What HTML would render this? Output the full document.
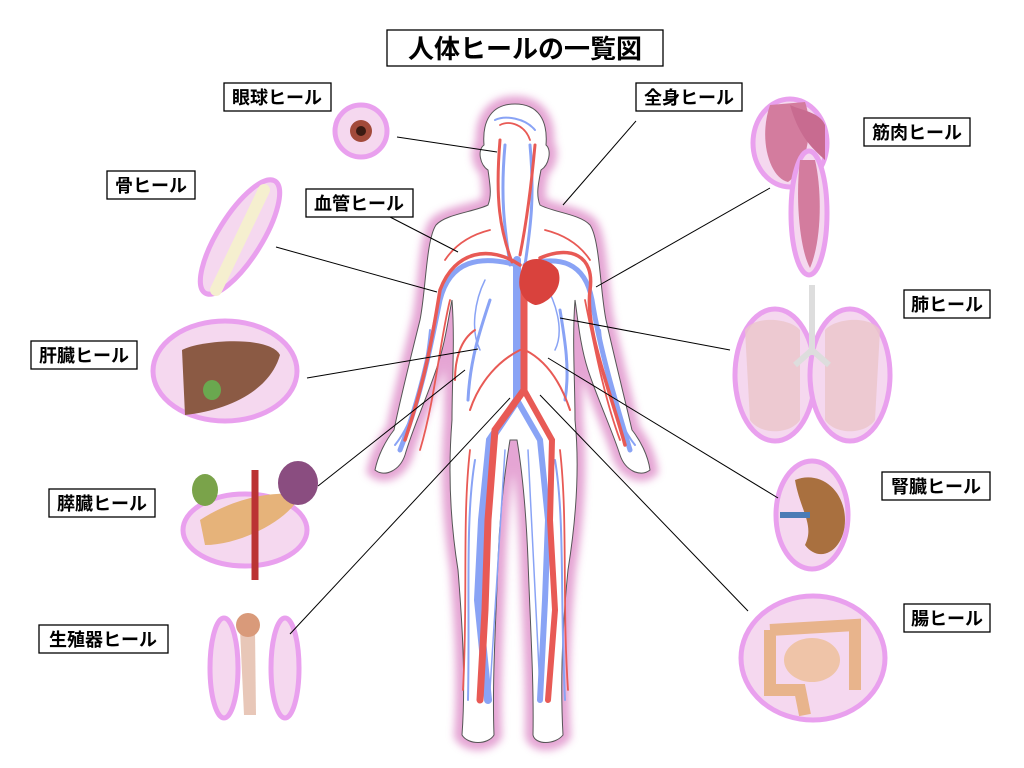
<!DOCTYPE html>
<html><head><meta charset="utf-8"><style>
html,body{margin:0;padding:0;background:#fff;}
svg{display:block}
.lb{font-family:"Liberation Sans","Noto Sans CJK JP",sans-serif;font-weight:bold;font-size:18px;fill:#000}
.bx{fill:#fff;stroke:#000;stroke-width:1.3}
.ln{stroke:#000;stroke-width:1;fill:none}
.org{stroke:#e9a0ee;stroke-width:5;fill:#f5d8ef}
.r{stroke:#e85a55;fill:none;stroke-linecap:round}
.b{stroke:#89a3f5;fill:none;stroke-linecap:round}
</style></head><body>
<svg width="1024" height="768" viewBox="0 0 1024 768">
<defs><filter id="gl" x="-20%" y="-20%" width="140%" height="140%"><feGaussianBlur stdDeviation="4"/></filter>
<path id="sil" d="M515,104 C538,104 548,120 546,145 C552,150 549,165 541,170 C538,185 536,195 540,205 C552,212 580,214 590,225 C600,240 600,290 606,320 C615,360 625,400 632,430 C640,440 648,455 650,470 C640,478 625,470 620,455 C612,430 598,400 588,370 C580,345 578,320 575,300 C572,340 575,380 575,420 C580,470 576,520 568,570 C563,620 560,680 563,735 C555,745 535,745 533,735 C534,680 530,620 528,560 C526,510 522,470 517,440 L510,440 C505,470 500,510 498,560 C496,620 492,680 494,735 C488,745 468,745 462,735 C466,680 462,620 458,570 C450,520 448,470 452,420 C452,380 455,340 452,300 C448,320 445,345 436,370 C426,400 412,430 405,455 C400,470 385,478 375,470 C378,455 386,440 394,430 C400,400 410,360 420,320 C426,290 426,240 436,225 C446,214 474,212 488,205 C492,195 490,185 488,170 C480,165 477,150 484,145 C482,120 492,104 515,104Z"/></defs>
<use href="#sil" fill="none" stroke="#d46ab8" stroke-width="16" filter="url(#gl)" opacity="0.6"/>
<use href="#sil" fill="#fff" stroke="#555" stroke-width="1"/>
<!-- vessels -->
<g class="b">
<path d="M517,260 L517,400 L490,440 L482,520 L478,600 L488,700" stroke-width="8"/>
<path d="M517,400 L540,440 L548,520 L545,600 L540,700" stroke-width="6"/>
<path d="M517,265 C480,255 450,260 440,300 C430,350 420,400 400,450" stroke-width="5"/>
<path d="M525,265 C560,255 585,262 592,300 C600,350 615,400 630,450" stroke-width="5"/>
<path d="M505,145 C500,200 505,230 510,265 M530,145 C535,200 530,230 525,265" stroke-width="3"/>
<path d="M490,300 C480,330 470,360 468,400 M560,310 C565,340 570,370 565,400" stroke-width="3"/>
<path d="M475,460 C465,520 470,600 468,700 M555,460 C565,520 560,600 565,700 M430,330 C425,380 415,420 395,445 M600,330 C605,380 615,420 635,445 M495,120 C505,115 525,118 535,130" stroke-width="2"/>
<path d="M485,280 C475,300 470,330 480,350 M545,285 C555,300 565,330 555,350 M505,450 C500,520 495,600 490,690 M528,450 C532,520 535,600 540,690" stroke-width="1.5"/>
</g>
<g class="r">
<path d="M524,290 L524,390 L495,430 L488,520 L485,610 L480,700" stroke-width="7"/>
<path d="M524,390 L552,440 L550,520 L555,610 L548,700" stroke-width="6"/>
<path d="M520,265 C490,245 455,250 440,290 C432,340 425,380 405,440" stroke-width="3.5"/>
<path d="M540,258 C570,245 595,255 590,290 C585,330 610,390 625,445" stroke-width="3.5"/>
<path d="M500,140 C495,200 500,230 512,262 M535,145 C530,200 525,230 520,255" stroke-width="3"/>
<path d="M520,350 C500,360 480,380 470,410 M525,350 C545,360 560,380 570,410 M475,330 C460,340 455,360 455,380" stroke-width="2"/>
<path d="M470,450 C462,520 468,600 463,690 M560,450 C568,520 562,600 568,690 M450,300 C440,340 435,400 420,450 M585,300 C595,350 605,400 620,440 M500,125 C510,120 525,125 530,140 M490,230 C470,235 455,245 445,260 M545,230 C565,235 580,245 590,260" stroke-width="1.8"/>
</g>
<path d="M523,265 C530,255 550,258 558,270 C565,290 545,305 535,305 C520,300 515,285 523,265Z" fill="#d9423d"/>
<!-- organs -->
<circle cx="361" cy="131" r="26" class="org"/><circle cx="361" cy="131" r="11" fill="#a24a3a"/><circle cx="361" cy="131" r="5" fill="#3a1a12"/>
<ellipse cx="240" cy="237" rx="22" ry="66" transform="rotate(32 240 237)" class="org"/>
<path d="M216,290 L264,190" stroke="#f5efcf" stroke-width="12" stroke-linecap="round"/>
<ellipse cx="790" cy="143" rx="37" ry="44" class="org"/><path d="M770,105 C758,140 770,178 788,182 C805,170 815,130 805,102Z" fill="#d37c9e"/><path d="M790,105 C800,110 820,112 825,125 L825,160 C815,150 800,140 790,105Z" fill="#c86b90"/>
<ellipse cx="809" cy="213" rx="18" ry="62" class="org"/><path d="M800,160 C795,200 800,250 810,268 C822,240 822,190 815,160Z" fill="#d37c9e"/>
<ellipse cx="775" cy="375" rx="40" ry="66" class="org"/><ellipse cx="850" cy="375" rx="40" ry="66" class="org"/>
<path d="M745,330 C755,315 790,318 800,330 L800,420 C790,435 760,435 750,420Z M825,330 C835,318 870,315 880,330 L875,420 C865,435 835,435 825,420Z" fill="#ebc5c9" opacity="0.8"/>
<path d="M812,285 L812,355 M812,350 L795,365 M812,350 L829,365" stroke="#ddd" stroke-width="6" fill="none"/>
<ellipse cx="225" cy="371" rx="72" ry="50" class="org"/><path d="M182,350 C200,340 270,335 280,355 C270,390 230,410 185,415 Z" fill="#8b5a44"/><ellipse cx="212" cy="390" rx="9" ry="10" fill="#6aa84f"/>
<ellipse cx="245" cy="530" rx="62" ry="36" class="org"/><path d="M200,520 C230,500 270,490 300,495 C290,520 240,545 205,545Z" fill="#e6b37a"/><ellipse cx="298" cy="483" rx="20" ry="22" fill="#8a4d80"/><ellipse cx="205" cy="490" rx="13" ry="16" fill="#7aa34a"/><path d="M255,470 L255,580" stroke="#b33" stroke-width="7"/>
<ellipse cx="224" cy="668" rx="14" ry="50" class="org"/><ellipse cx="285" cy="668" rx="14" ry="50" class="org"/>
<path d="M240,630 L255,630 L256,715 L244,715Z" fill="#e8c7b8"/><circle cx="248" cy="625" r="12" fill="#d99a7a"/>
<ellipse cx="812" cy="515" rx="36" ry="54" class="org"/><path d="M795,480 C820,470 845,490 845,520 C845,550 820,565 805,545 C815,525 800,510 795,480Z" fill="#a9703f"/><path d="M780,515 L810,515" stroke="#4b7bb5" stroke-width="6"/>
<ellipse cx="813" cy="658" rx="72" ry="62" class="org"/><path d="M770,630 L855,625 L855,690 M770,630 L770,690 L800,690 L805,715" stroke="#e8b48c" stroke-width="12" fill="none"/><ellipse cx="812" cy="660" rx="28" ry="22" fill="#efc4a8"/>
<!-- connectors -->
<g class="ln">
<line x1="397" y1="137" x2="497" y2="152"/><line x1="636" y1="121" x2="563" y2="205"/>
<line x1="276" y1="247" x2="437" y2="292"/><line x1="390" y1="217" x2="458" y2="252"/>
<line x1="770" y1="188" x2="596" y2="287"/><line x1="730" y1="350" x2="560" y2="318"/>
<line x1="307" y1="378" x2="478" y2="349"/><line x1="318" y1="486" x2="465" y2="370"/>
<line x1="778" y1="498" x2="548" y2="358"/><line x1="290" y1="634" x2="510" y2="398"/>
<line x1="748" y1="611" x2="540" y2="395"/>
</g>
<!-- labels -->
<rect class="bx" x="387" y="30" width="276" height="36"/><text class="lb" x="525" y="58" text-anchor="middle" style="font-size:26px">人体ヒールの一覧図</text>
<rect class="bx" x="224" y="83" width="107" height="28"/><text class="lb" x="277" y="104" text-anchor="middle">眼球ヒール</text>
<rect class="bx" x="636" y="83" width="106" height="28"/><text class="lb" x="689" y="104" text-anchor="middle">全身ヒール</text>
<rect class="bx" x="107" y="171" width="88" height="28"/><text class="lb" x="151" y="192" text-anchor="middle">骨ヒール</text>
<rect class="bx" x="306" y="189" width="107" height="28"/><text class="lb" x="359" y="210" text-anchor="middle">血管ヒール</text>
<rect class="bx" x="864" y="118" width="106" height="28"/><text class="lb" x="917" y="139" text-anchor="middle">筋肉ヒール</text>
<rect class="bx" x="904" y="290" width="86" height="28"/><text class="lb" x="947" y="311" text-anchor="middle">肺ヒール</text>
<rect class="bx" x="31" y="341" width="106" height="28"/><text class="lb" x="84" y="362" text-anchor="middle">肝臓ヒール</text>
<rect class="bx" x="49" y="489" width="106" height="28"/><text class="lb" x="102" y="510" text-anchor="middle">膵臓ヒール</text>
<rect class="bx" x="882" y="472" width="108" height="28"/><text class="lb" x="936" y="493" text-anchor="middle">腎臓ヒール</text>
<rect class="bx" x="39" y="625" width="129" height="28"/><text class="lb" x="103" y="646" text-anchor="middle">生殖器ヒール</text>
<rect class="bx" x="904" y="604" width="86" height="28"/><text class="lb" x="947" y="625" text-anchor="middle">腸ヒール</text>
</svg>
</body></html>
